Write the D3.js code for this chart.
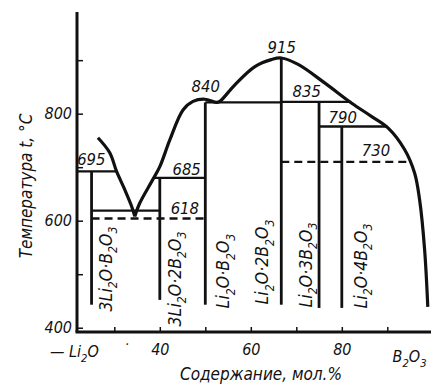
<!DOCTYPE html>
<html><head><meta charset="utf-8">
<script src="https://cdn.jsdelivr.net/npm/d3@7"></script>
<style>
body{margin:0;background:#fff}
svg{display:block}
text{font-family:"DejaVu Sans Condensed","DejaVu Sans",sans-serif;font-stretch:condensed;font-style:italic;fill:#111}
</style></head><body>
<svg id="c" width="431" height="385"></svg>
<script>
// ---------- data ----------
const leftLiquidusP = [26.4, 29.0, 30.5, 32.3, 33.8, 34.5];
const leftLiquidusT = [755, 727, 692, 658, 627, 608];
const rightLiquidusP = [34.5, 35.6, 38.2, 40.0, 42.2, 45.1, 47.3, 49.9, 52.5, 53.2, 56.5, 60.9, 64.5, 66.7, 70.4, 76.3, 82.1, 86.5, 90.2, 93.8, 96.0, 97.1, 98.2, 98.9];
const rightLiquidusT = [608, 633, 673, 701, 751, 807, 823, 827, 821, 823, 854, 888, 901, 904, 892, 857, 820, 795, 773, 733, 689, 639, 546, 439];

const compoundNames = ["3Li_2O·B_2O_3", "3Li_2O·2B_2O_3", "Li_2O·B_2O_3", "Li_2O·2B_2O_3", "Li_2O·3B_2O_3", "Li_2O·4B_2O_3"];
const compoundP = [25, 40, 50, 66.7, 75, 80];
const compoundTop = [692, 680, 821, 904, 822, 776];
const compoundBottom = [443, 452, 443, 443, 437, 437];

const solidT = [692, 619, 680, 821, 822, 776];
const solidFrom = [21.8, 25, 38.6, 50, 66.7, 75];
const solidTo = [30.5, 40, 50, 66.7, 82.1, 89.9];
const dashedT = [604, 710];
const dashedFrom = [25, 66.7];
const dashedTo = [50, 95];

const tempLabels = ["695", "685", "618", "840", "915", "835", "790", "730"];
const tempLabelP = [24.95, 45.9, 45.5, 50.1, 66.8, 72.3, 80.2, 87.5];
const tempLabelT = [705, 686, 613, 841, 914, 832, 783, 720];

const yTickValues = [400, 500, 600, 700, 800, 900];
const yTickLabels = [400, 600, 800];
const xTickValues = [30, 40, 50, 60, 70, 80, 90];
const xTickLabels = [40, 60, 80];
const yTitle = "Температура t, °C";
const xTitle = "Содержание, мол.%";

// ---------- layout ----------
const svg = d3.select("#c");
const x = d3.scaleLinear().domain([21.8, 100]).range([77, 432.8]);
const y = d3.scaleLinear().domain([392, 990]).range([332, 12]);
const compoundOffset = [14, 15, 18, -19, -13, 19];
const compoundMid = [269, 279, 271, 262, 265, 266];
const ink = "#111";

function rich(sel, str, fs) {
  const parts = str.split(/(_\d)/).filter(p => p);
  const sh = fs * 0.3;
  let down = false;
  parts.forEach(p => {
    if (p[0] === "_") {
      sel.append("tspan").attr("font-size", fs * 0.7).attr("dy", down ? 0 : sh).text(p.slice(1));
      down = true;
    } else {
      sel.append("tspan").attr("dy", down ? -sh : 0).text(p);
      down = false;
    }
  });
}

// axes
const yAxis = d3.axisLeft(y).tickValues(yTickValues).tickSizeInner(-6).tickSizeOuter(0).tickPadding(5)
  .tickFormat(d => yTickLabels.includes(d) ? d : "");
const gy = svg.append("g").attr("transform", `translate(${x(21.8)},0)`).call(yAxis);
gy.select(".domain").remove();
gy.selectAll("line").attr("stroke", ink).attr("stroke-width", 1.5);
gy.selectAll("text").attr("font-size", 16).attr("font-family", null).filter(function () { return !this.textContent; }).remove();

const xAxis = d3.axisBottom(x).tickValues(xTickValues).tickSizeInner(-5).tickSizeOuter(0).tickPadding(12)
  .tickFormat(d => xTickLabels.includes(d) ? d : "");
const gx = svg.append("g").attr("transform", `translate(0,${y(392)})`).call(xAxis);
gx.select(".domain").remove();
gx.selectAll("line").attr("stroke", ink).attr("stroke-width", 1.5);
gx.selectAll("text").attr("font-size", 16).attr("font-family", null).filter(function () { return !this.textContent; }).remove();

svg.append("line").attr("x1", x(21.8)).attr("x2", x(21.8)).attr("y1", y(392)).attr("y2", y(990))
  .attr("stroke", ink).attr("stroke-width", 3);
svg.append("line").attr("x1", x(21.8) - 1.5).attr("x2", x(100)).attr("y1", y(392)).attr("y2", y(392))
  .attr("stroke", ink).attr("stroke-width", 3);

// isotherms
svg.append("g").selectAll("line").data(solidT).join("line")
  .attr("x1", (d, i) => x(solidFrom[i])).attr("x2", (d, i) => x(solidTo[i]))
  .attr("y1", d => y(d)).attr("y2", d => y(d))
  .attr("stroke", ink).attr("stroke-width", 2.3);
svg.append("g").selectAll("line").data(dashedT).join("line")
  .attr("x1", (d, i) => x(dashedFrom[i])).attr("x2", (d, i) => x(dashedTo[i]))
  .attr("y1", d => y(d)).attr("y2", d => y(d))
  .attr("stroke", ink).attr("stroke-width", 2.4).attr("stroke-dasharray", "8,5");

// compound lines
svg.append("g").selectAll("line").data(compoundP).join("line")
  .attr("x1", d => x(d)).attr("x2", d => x(d))
  .attr("y1", (d, i) => y(compoundTop[i])).attr("y2", (d, i) => y(compoundBottom[i]))
  .attr("stroke", ink).attr("stroke-width", 2.8);

// liquidus
const line = d3.line().x(d => x(d[0])).y(d => y(d[1])).curve(d3.curveCatmullRom.alpha(0.5));
svg.append("path").attr("d", line(leftLiquidusP.map((p, i) => [p, leftLiquidusT[i]])))
  .attr("fill", "none").attr("stroke", ink).attr("stroke-width", 3.2);
svg.append("path").attr("d", line(rightLiquidusP.map((p, i) => [p, rightLiquidusT[i]])))
  .attr("fill", "none").attr("stroke", ink).attr("stroke-width", 3.2);

// temperature labels
svg.append("g").selectAll("text").data(tempLabels).join("text")
  .attr("x", (d, i) => x(tempLabelP[i])).attr("y", (d, i) => y(tempLabelT[i]))
  .attr("text-anchor", "middle").attr("font-size", 16.5).text(d => d);

// compound labels
compoundNames.forEach((n, i) => {
  const fs = 17.5;
  const t = svg.append("text").attr("font-size", fs).attr("text-anchor", "middle")
    .attr("transform", `translate(${x(compoundP[i]) + compoundOffset[i] + 6},${compoundMid[i]}) rotate(-90)`);
  rich(t, n, fs);
});

// axis end labels
const lt = svg.append("text").attr("x", 50).attr("y", 357).attr("font-size", 16);
rich(lt, "— Li_2O", 16);
svg.append("text").attr("x", 125).attr("y", 349).attr("font-size", 14).text("·");
const bt = svg.append("text").attr("x", x(94.9)).attr("y", 362).attr("text-anchor", "middle").attr("font-size", 16);
rich(bt, "B_2O_3", 16);

// titles
svg.append("text").attr("transform", "translate(32,186) rotate(-90)").attr("text-anchor", "middle")
  .attr("font-size", 17).text(yTitle);
svg.append("text").attr("x", 261).attr("y", 380).attr("text-anchor", "middle")
  .attr("font-size", 17).text(xTitle);
</script>
</body></html>
